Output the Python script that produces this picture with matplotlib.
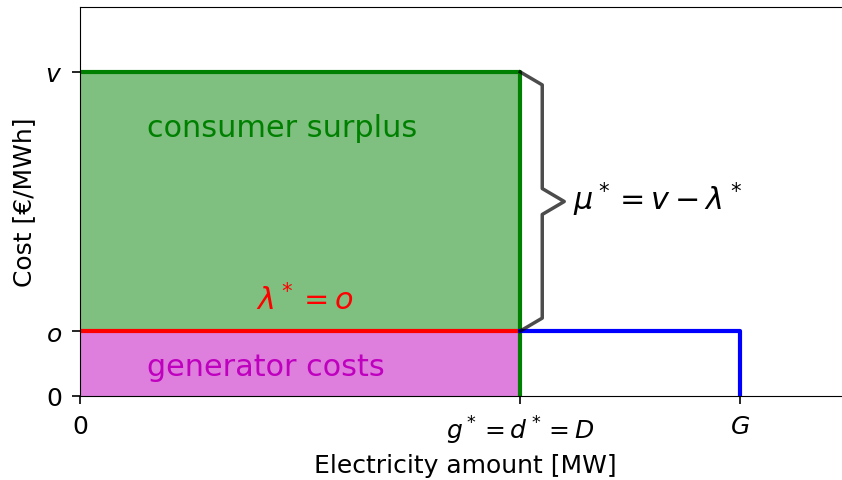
import numpy as np
import matplotlib.pyplot as plt

# model values (arbitrary units)
D = 1.0
G = 1.5
o = 1.0
v = 5.0

x_ticks = [0, D, G]
x_labels = ['0', r'$g^* = d^* = D$', r'$G$']
y_ticks = [0, o, v]
y_labels = ['0', r'$o$', r'$v$']

# curly brace for mu*
brace_x = [D, D + 0.05, D + 0.05, D + 0.1, D + 0.05, D + 0.05, D]
brace_y = [v, v - 0.2, 3.2, 3.0, 2.8, o + 0.2, o]

fig = plt.figure(figsize=(8.42, 4.81), dpi=100)
ax = fig.add_axes([0.095, 0.175, 0.915, 0.808])

ax.fill_between([0, D], o, v, color='green', alpha=0.5, lw=0)
ax.fill_between([0, D], 0, o, color='m', alpha=0.5, lw=0)

ax.plot([0, D, D], [v, v, 0], color='green', lw=3)
ax.plot([0, D], [o, o], color='red', lw=3)
ax.plot([D, G, G], [o, o, 0], color='blue', lw=3)
ax.plot(brace_x, brace_y, color='black', alpha=0.7, lw=2.5)

ax.text(0.152, 4.15, 'consumer surplus', color='green', fontsize=21.8, va='center')
ax.text(0.152, 0.46, 'generator costs', color='m', fontsize=21.8, va='center')
ax.text(0.4, 1.5, r'$\lambda^* = o$', color='red', fontsize=21.8, va='center')
ax.text(1.12, 3.05, r'$\mu^* = v - \lambda^*$', color='black', fontsize=21.8, va='center')

ax.set_xlim(0, 1.75)
ax.set_ylim(0, 6)
ax.set_xticks(x_ticks)
ax.set_xticklabels(x_labels, fontsize=18)
ax.set_yticks(y_ticks)
ax.set_yticklabels(y_labels, fontsize=18)
ax.tick_params(length=6, width=1.2, pad=7)
ax.set_xlabel('Electricity amount [MW]', fontsize=18, labelpad=5)
ax.set_ylabel('Cost [€/MWh]', fontsize=18, labelpad=6)

plt.savefig('out.png', dpi=100)
